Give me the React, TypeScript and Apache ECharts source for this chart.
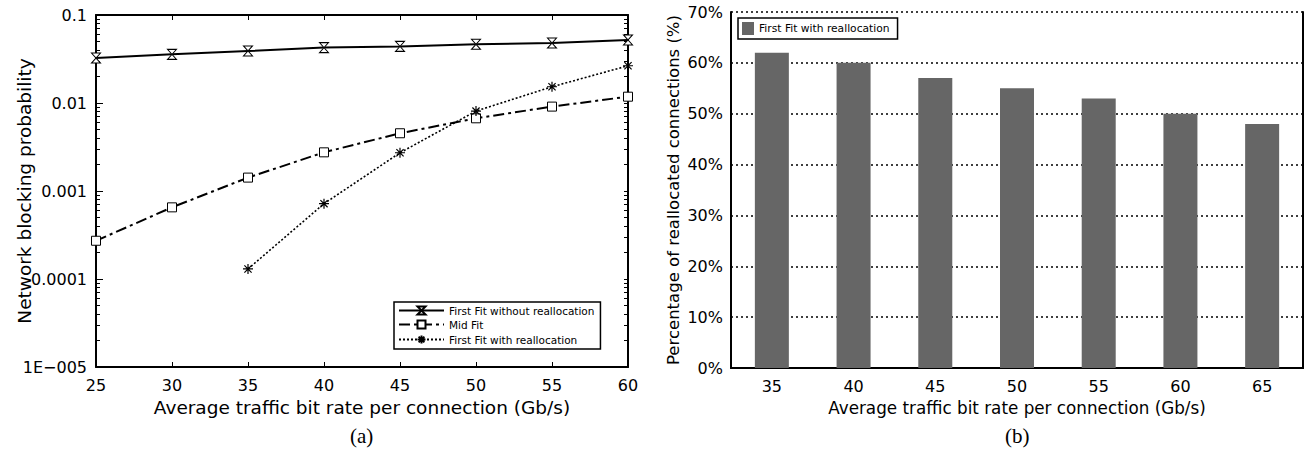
import { useEffect, useRef } from 'react';
import * as echarts from 'echarts';

// ---- Data: panel (a) ----
const rateA = [25, 30, 35, 40, 45, 50, 55, 60];
const ffWithout = [0.0324, 0.0357, 0.039, 0.0426, 0.044, 0.0465, 0.048, 0.052];
const midFit = [0.000272, 0.000652, 0.00142, 0.00275, 0.00453, 0.0067, 0.0091, 0.0118];
const ffWith: (number | null)[] = [null, null, 0.00013, 0.000718, 0.00272, 0.0081, 0.0153, 0.0265];
const logLabels: Record<number, string> = { [-1]: '0.1', [-2]: '0.01', [-3]: '0.001', [-4]: '0.0001', [-5]: '1E\u2212005' };

// ---- Data: panel (b) ----
const rateB = ['35', '40', '45', '50', '55', '60', '65'];
const reallocPct = [62, 60, 57, 55, 53, 50, 48];

const nameA = ['First Fit without reallocation', 'Mid Fit', 'First Fit with reallocation'];
const nameB = 'First Fit with reallocation';

const FONT = '"DejaVu Sans", sans-serif';

const hourglass = 'path://M-4,-5L4,-5L-4,5L4,5Z';
const asterisk = 'path://M0,-5L0,5M-5,0L5,0M-3.6,-3.6L3.6,3.6M-3.6,3.6L3.6,-3.6';

const minorLog: number[] = [];
for (let d = -5; d <= -2; d++) {
  for (let k = 2; k <= 9; k++) minorLog.push(Math.log10(k) + d);
}
const majorLog = [-5, -4, -3, -2, -1];

export default function App() {
  const ref = useRef<HTMLDivElement>(null);
  useEffect(() => {
    const chart = echarts.init(ref.current!, null, { renderer: 'svg' });
    const gridA = { left: 96, right: 1307 - 628, top: 15, bottom: 456 - 367 };
    const gridB = { left: 731, right: 4, top: 12, bottom: 456 - 368 };
    const axisLine = { show: true, lineStyle: { color: '#000', width: 2 } };
    chart.setOption({
      animation: false,
      backgroundColor: '#fff',
      textStyle: { fontFamily: FONT, color: '#000' },
      grid: [
        { ...gridA, show: false },
        { ...gridB, show: false },
      ],
      legend: [
        {
          data: nameA,
          left: 394,
          top: 302,
          orient: 'vertical',
          itemGap: 3,
          itemWidth: 45,
          itemHeight: 10,
          padding: [3, 6, 3, 4],
          borderColor: '#000',
          borderWidth: 1.5,
          textStyle: { fontSize: 10.5, fontFamily: FONT, color: '#000' },
        },
        {
          data: [nameB],
          left: 738,
          top: 18,
          itemWidth: 12,
          itemHeight: 13,
          icon: 'rect',
          itemStyle: { color: '#666666', borderWidth: 0 },
          padding: [4, 8, 4, 4],
          borderColor: '#000',
          borderWidth: 1.5,
          textStyle: { fontSize: 10.7, fontFamily: FONT, color: '#000' },
        },
      ],
      xAxis: [
        {
          gridIndex: 0,
          type: 'value',
          min: 25,
          max: 60,
          interval: 5,
          axisLine,
          axisTick: { inside: true, length: 5, lineStyle: { color: '#000' } },
          axisLabel: { fontSize: 16, color: '#000', fontFamily: FONT, margin: 10 },
          splitLine: { show: false },
          name: 'Average traffic bit rate per connection (Gb/s)',
          nameLocation: 'middle',
          nameGap: 31,
          nameMoveOverlap: false,
          nameTextStyle: { fontSize: 18.5, fontFamily: FONT, color: '#000' },
        },
        {
          gridIndex: 0,
          type: 'value',
          position: 'top',
          min: 25,
          max: 60,
          interval: 5,
          axisLine,
          axisTick: { inside: true, length: 5, lineStyle: { color: '#000' } },
          axisLabel: { show: false },
          splitLine: { show: false },
        },
        {
          gridIndex: 1,
          type: 'category',
          data: rateB,
          axisLine,
          axisTick: { inside: true, length: 5, lineStyle: { color: '#000' } },
          axisLabel: { fontSize: 16, color: '#000', fontFamily: FONT, margin: 10 },
          name: 'Average traffic bit rate per connection (Gb/s)',
          nameLocation: 'middle',
          nameGap: 31,
          nameMoveOverlap: false,
          nameTextStyle: { fontSize: 16.8, fontFamily: FONT, color: '#000' },
        },
        {
          gridIndex: 1,
          type: 'category',
          data: rateB,
          position: 'top',
          axisLine,
          axisTick: { inside: true, length: 5, lineStyle: { color: '#000' } },
          axisLabel: { show: false },
        },
      ],
      yAxis: [
        {
          gridIndex: 0,
          type: 'log',
          logBase: 10,
          min: 0.00001,
          max: 0.1,
          axisLine,
          axisTick: { inside: true, length: 7, lineStyle: { color: '#000' } },
          axisLabel: {
            fontSize: 16,
            color: '#000',
            fontFamily: FONT,
            margin: 9,
            formatter: (v: number) => logLabels[Math.round(Math.log10(v))] ?? '',
          },
          splitLine: { show: false },
          name: 'Network blocking probability',
          nameLocation: 'middle',
          nameGap: 62,
          nameMoveOverlap: false,
          nameTextStyle: { fontSize: 18.5, fontFamily: FONT, color: '#000' },
        },
        {
          gridIndex: 0,
          type: 'value',
          min: -5,
          max: -1,
          position: 'left',
          axisLine: { show: false },
          axisTick: { show: true, inside: true, length: 4, customValues: minorLog, lineStyle: { color: '#000' } },
          axisLabel: { show: false, customValues: minorLog },
          splitLine: { show: false },
        },
        {
          gridIndex: 0,
          type: 'value',
          min: -5,
          max: -1,
          position: 'right',
          axisLine,
          axisTick: { show: true, inside: true, length: 4, customValues: minorLog.concat(majorLog), lineStyle: { color: '#000' } },
          axisLabel: { show: false, customValues: minorLog },
          splitLine: { show: false },
        },
        {
          gridIndex: 1,
          type: 'value',
          min: 0,
          max: 70,
          interval: 10,
          axisLine,
          axisTick: { inside: true, length: 4, lineStyle: { color: '#000' } },
          axisLabel: { fontSize: 16, color: '#000', fontFamily: FONT, margin: 8, formatter: '{value}%' },
          splitLine: { show: true, lineStyle: { color: '#000', type: [2, 3], width: 1.5 } },
          name: 'Percentage of reallocated connections (%)',
          nameLocation: 'middle',
          nameGap: 49,
          nameMoveOverlap: false,
          nameTextStyle: { fontSize: 16.5, fontFamily: FONT, color: '#000' },
        },
        {
          gridIndex: 1,
          type: 'value',
          min: 0,
          max: 70,
          interval: 10,
          position: 'right',
          axisLine,
          axisTick: { show: false },
          axisLabel: { show: false },
          splitLine: { show: false },
        },
      ],
      series: [
        {
          name: nameA[0],
          type: 'line',
          xAxisIndex: 0,
          yAxisIndex: 0,
          data: rateA.map((x, i) => [x, ffWithout[i]]),
          symbol: hourglass,
          symbolSize: [9, 10],
          lineStyle: { color: '#000', width: 2 },
          itemStyle: { color: '#fff', borderColor: '#000', borderWidth: 1 },
        },
        {
          name: nameA[1],
          type: 'line',
          xAxisIndex: 0,
          yAxisIndex: 0,
          data: rateA.map((x, i) => [x, midFit[i]]),
          symbol: 'rect',
          symbolSize: 9,
          lineStyle: { color: '#000', width: 2, type: [11, 4, 3, 4] },
          itemStyle: { color: '#fff', borderColor: '#000', borderWidth: 1 },
        },
        {
          name: nameA[2],
          type: 'line',
          xAxisIndex: 0,
          yAxisIndex: 0,
          data: rateA.map((x, i) => [x, ffWith[i]]).filter((p) => p[1] !== null),
          symbol: asterisk,
          symbolSize: 10,
          lineStyle: { color: '#000', width: 1.6, type: [2, 2] },
          itemStyle: { color: 'none', borderColor: '#000', borderWidth: 1.2 },
        },
        {
          name: nameB,
          type: 'bar',
          xAxisIndex: 2,
          yAxisIndex: 3,
          data: reallocPct,
          barWidth: 34,
          itemStyle: { color: '#666666' },
        },
      ],
      graphic: [
        {
          type: 'text',
          left: 350,
          top: 425,
          style: { text: '(a)', fontSize: 21, fontFamily: '"Liberation Serif", serif', fill: '#000' },
        },
        {
          type: 'text',
          left: 1005,
          top: 425,
          style: { text: '(b)', fontSize: 21, fontFamily: '"Liberation Serif", serif', fill: '#000' },
        },
      ],
    });
    return () => chart.dispose();
  }, []);
  return <div ref={ref} style={{ position: 'fixed', left: 0, top: 0, width: 1307, height: 456 }} />;
}
